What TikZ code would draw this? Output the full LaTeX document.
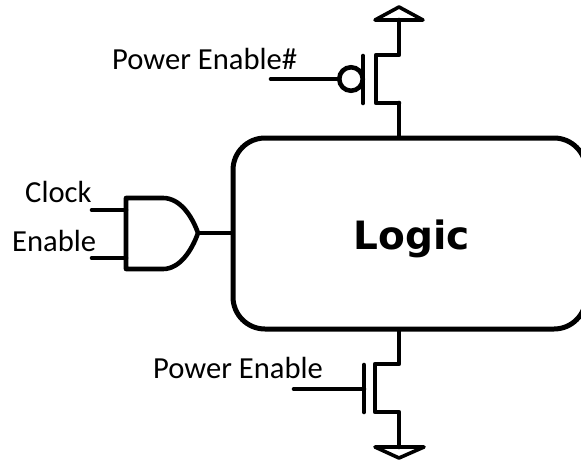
\documentclass[tikz,border=0pt]{standalone}
\usepackage{fontspec}
\setmainfont{Carlito}
\newfontfamily\logicfont{DejaVu Sans}
\tikzset{
  wire/.style={line width=4.6pt,line join=round,line cap=round,black},
  label/.style={inner sep=0pt,font=\fontsize{30.6}{36}\selectfont,text=black},
  logicbox/.style={draw=black,line width=5pt,rounded corners=32pt,fill=white,inner sep=0pt,
    minimum width=353pt,minimum height=191pt},
}
\begin{document}
\begin{tikzpicture}[x=1pt,y=-1pt]
\useasboundingbox (0,0) rectangle (581,461);
\clip (0,0) rectangle (581,461);
\fill[white] (0,0) rectangle (581,461);
% coordinates
\coordinate (vddL) at (375,20);
\coordinate (vddT) at (399,7);
\coordinate (vddR) at (423,20);
\coordinate (pd) at (399,55);
\coordinate (pc1) at (376,55);
\coordinate (pc2) at (376,103);
\coordinate (ps) at (399,103);
\coordinate (pg1) at (363,56);
\coordinate (pg2) at (363,103);
\coordinate (pin) at (271,79);
\coordinate (nd) at (399,364);
\coordinate (nc1) at (375,364);
\coordinate (nc2) at (375,412);
\coordinate (ns) at (399,412);
\coordinate (ng1) at (364,365);
\coordinate (ng2) at (364,412);
\coordinate (ngm) at (364,389);
\coordinate (nin) at (294,389);
\coordinate (gndL) at (375,447);
\coordinate (gndM) at (399,447);
\coordinate (gndB) at (399,458);
\coordinate (gndR) at (424,447);
\coordinate (in1) at (92,210);
\coordinate (in2) at (92,258);
\coordinate (a1) at (126,210);
\coordinate (a2) at (126,258);
\coordinate (tip) at (198,233);
% logic block
\node[logicbox] (logic) at (409.5,233.5) {};
\node[inner sep=0pt,anchor=base,font=\logicfont\bfseries\fontsize{39}{44}\selectfont] (logictext) at (412,249) {Logic};
% PMOS
\node[circle,draw=black,line width=4.6pt,minimum size=23.5pt,inner sep=0pt] (bubble) at (351,79) {};
\draw[wire] (pin) -- (bubble.west);
\draw[wire] (pg1) -- (pg2);
\draw[wire] (ps) -- (pc2) -- (pc1) -- (pd) -- (399,20);
\draw[wire] (ps) -- (logic.north -| ps);
\draw[line width=3.6pt,line join=round,line cap=round] (vddL) -- (vddT) -- (vddR) -- cycle;
% NMOS
\draw[wire] (ng1) -- (ng2);
\draw[wire] (nin) -- (ngm);
\draw[wire] (logic.south -| nd) -- (nd) -- (nc1) -- (nc2) -- (ns) -- (gndM);
\draw[line width=3.6pt,line join=round,line cap=round] (gndL) -- (gndR) -- (gndB) -- cycle;
% AND gate
\draw[wire] (163,198) -- (126,198) -- (126,269) -- (163,269)
  .. controls (180,269) and (192,250) .. (tip)
  .. controls (192,216) and (180,198) .. (163,198) -- cycle;
\draw[wire] (in1) -- (a1);
\draw[wire] (in2) -- (a2);
\draw[wire] (tip) -- (logic.west |- tip);
% labels
\node[label,anchor=base west] (pe) at (112,69) {Power Enable\#};
\node[label,anchor=base west] (ne) at (153,378) {Power Enable};
\node[label,anchor=base west] (clk) at (25,202) {Clock};
\node[label,anchor=base west] (en) at (12,251) {Enable};
\end{tikzpicture}
\end{document}
